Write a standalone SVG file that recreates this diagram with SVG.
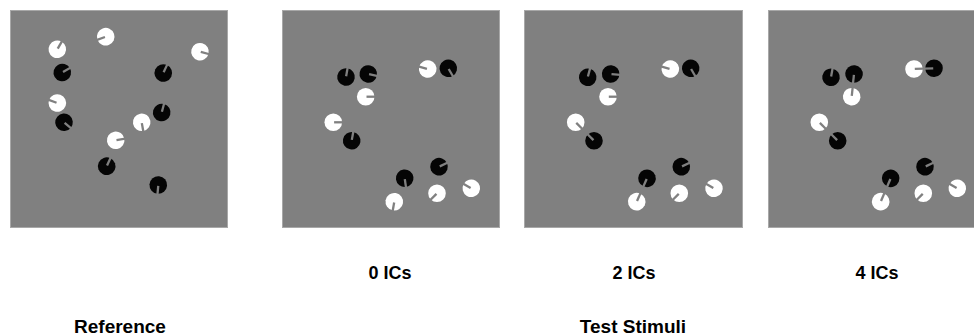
<svg xmlns="http://www.w3.org/2000/svg" xmlns:xlink="http://www.w3.org/1999/xlink" width="974" height="336" viewBox="0 0 974 336">
  <style>
    .panel { fill: #808080; stroke: #a8a8a8; stroke-width: 1; }
    .label { font-family: "Liberation Sans", Arial, sans-serif; font-weight: bold; font-size: 18px; fill: #000; text-anchor: middle; }
    .label.big { font-size: 19px; }
  </style>
  <defs>
    <!-- notched discs: a grey slit from the centre to the rim, pointing along +x -->
    <g id="w">
      <circle r="8.8" fill="#ffffff"/>
      <rect x="0.8" y="-1.15" width="9" height="2.3" fill="#808080"/>
    </g>
    <g id="b">
      <circle r="8.8" fill="#050505"/>
      <rect x="0.8" y="-1.15" width="9" height="2.3" fill="#808080"/>
    </g>
  </defs>

  <rect width="974" height="336" fill="#ffffff"/>

  <!-- Reference display -->
  <g id="panel-reference">
    <rect class="panel" x="10.5" y="10.5" width="217" height="217"/>
    <use href="#w" transform="translate(57.3,49.3) rotate(-60)"/>
    <use href="#w" transform="translate(105.7,36.7) rotate(160)"/>
    <use href="#w" transform="translate(200,51.7) rotate(15)"/>
    <use href="#b" transform="translate(62.3,72.5) rotate(-30)"/>
    <use href="#b" transform="translate(163.3,73) rotate(-65)"/>
    <use href="#w" transform="translate(57.3,103) rotate(-160)"/>
    <use href="#b" transform="translate(64,122.3) rotate(40)"/>
    <use href="#b" transform="translate(161.7,112.5) rotate(-75)"/>
    <use href="#w" transform="translate(141.7,122.3) rotate(80)"/>
    <use href="#w" transform="translate(115.7,140.3) rotate(-10)"/>
    <use href="#b" transform="translate(106.7,166.2) rotate(-65)"/>
    <use href="#b" transform="translate(158.3,185) rotate(95)"/>
  </g>

  <!-- Test stimulus, 0 illusory contours -->
  <g id="panel-0ics">
    <rect class="panel" x="282.5" y="10.5" width="217" height="217"/>
    <use href="#b" transform="translate(346,77) rotate(-80)"/>
    <use href="#b" transform="translate(368.3,74) rotate(12)"/>
    <use href="#b" transform="translate(448.3,68.3) rotate(60)"/>
    <use href="#b" transform="translate(351.7,140.7) rotate(-80)"/>
    <use href="#b" transform="translate(404.7,178.3) rotate(82)"/>
    <use href="#b" transform="translate(439,166.7) rotate(-25)"/>
    <use href="#w" transform="translate(427.7,69) rotate(-165)"/>
    <use href="#w" transform="translate(365.7,96.7) rotate(0)"/>
    <use href="#w" transform="translate(333.3,122.3) rotate(0)"/>
    <use href="#w" transform="translate(394.3,201.7) rotate(100)"/>
    <use href="#w" transform="translate(437,193.3) rotate(135)"/>
    <use href="#w" transform="translate(471.3,188.3) rotate(-150)"/>
  </g>

  <!-- Test stimulus, 2 illusory contours -->
  <g id="panel-2ics">
    <rect class="panel" x="524.5" y="10.5" width="218" height="217"/>
    <use href="#b" transform="translate(587.7,77.3) rotate(-75)"/>
    <use href="#b" transform="translate(610.7,74) rotate(5)"/>
    <use href="#b" transform="translate(690.7,68.3) rotate(60)"/>
    <use href="#b" transform="translate(594,140.7) rotate(-135)"/>
    <use href="#b" transform="translate(647,178.3) rotate(114)"/>
    <use href="#b" transform="translate(681.3,166.7) rotate(-25)"/>
    <use href="#w" transform="translate(670.3,69) rotate(-165)"/>
    <use href="#w" transform="translate(608,96.7) rotate(0)"/>
    <use href="#w" transform="translate(575.7,122.3) rotate(45)"/>
    <use href="#w" transform="translate(636.7,201.7) rotate(-66)"/>
    <use href="#w" transform="translate(679.3,193.3) rotate(135)"/>
    <use href="#w" transform="translate(714,188.3) rotate(-150)"/>
  </g>

  <!-- Test stimulus, 4 illusory contours -->
  <g id="panel-4ics">
    <rect class="panel" x="768.5" y="10.5" width="220" height="217"/>
    <use href="#b" transform="translate(831,77.3) rotate(-80)"/>
    <use href="#b" transform="translate(854,74) rotate(96)"/>
    <use href="#b" transform="translate(934,68.3) rotate(178)"/>
    <use href="#b" transform="translate(837.7,140.7) rotate(-135)"/>
    <use href="#b" transform="translate(890.7,178.3) rotate(113)"/>
    <use href="#b" transform="translate(925,166.7) rotate(-25)"/>
    <use href="#w" transform="translate(914,69) rotate(-2)"/>
    <use href="#w" transform="translate(851.7,96.7) rotate(-84)"/>
    <use href="#w" transform="translate(819.3,122.3) rotate(45)"/>
    <use href="#w" transform="translate(880.7,201.7) rotate(-67)"/>
    <use href="#w" transform="translate(923.3,193.3) rotate(135)"/>
    <use href="#w" transform="translate(957.3,188.3) rotate(-150)"/>
  </g>

  <!-- captions -->
  <g id="captions">
    <text class="label" x="390" y="279">0 ICs</text>
    <text class="label" x="634" y="279">2 ICs</text>
    <text class="label" x="877" y="279">4 ICs</text>
    <text class="label big" x="120" y="333">Reference</text>
    <text class="label big" x="633" y="333">Test Stimuli</text>
  </g>
</svg>
